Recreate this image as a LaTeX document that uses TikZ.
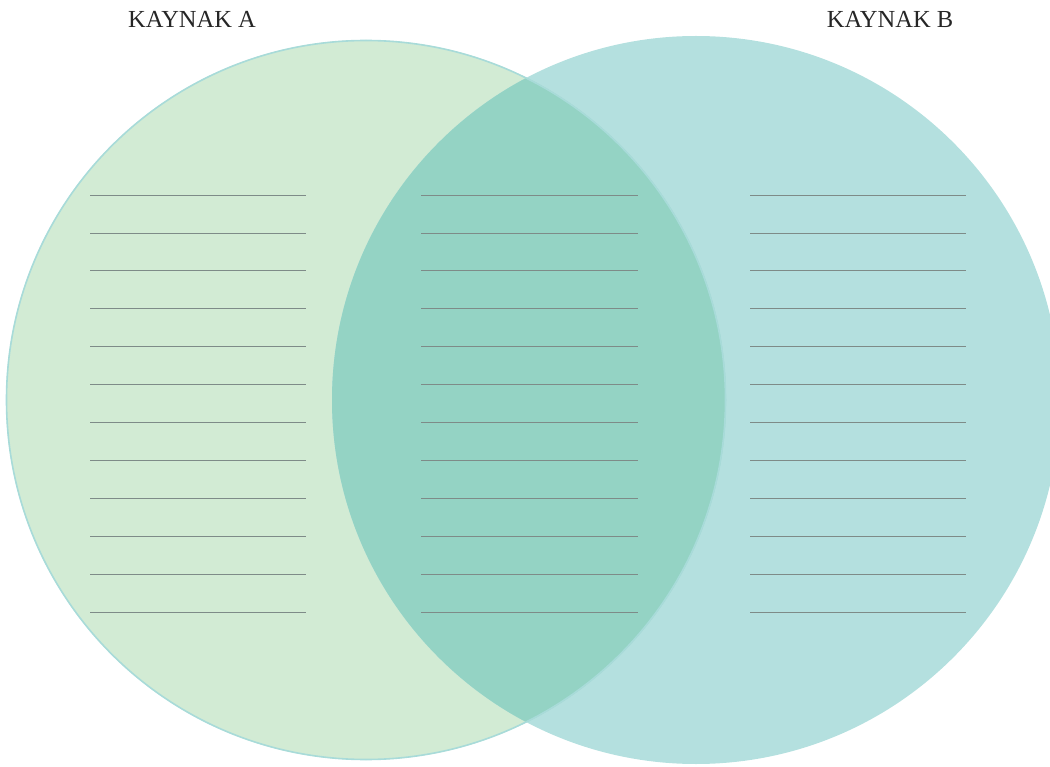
\documentclass[tikz,border=0pt]{standalone}
\usepackage{fontspec}
\setmainfont{Liberation Serif}
\usetikzlibrary{positioning}

\definecolor{srcAfill}{HTML}{D2EBD4}
\definecolor{srcBfill}{HTML}{B4E0DF}
\definecolor{bothfill}{HTML}{94D3C4}
\definecolor{rimcol}{HTML}{A8DBD9}
\definecolor{rulecol}{HTML}{7E8B88}

\begin{document}
\begin{tikzpicture}[
        x=1pt, y=-1pt,
        label/.style={font=\fontsize{24.5}{28}\selectfont, text=black!85, inner sep=0pt},
        rule/.style={rulecol, line width=0.7pt}
    ]

    \useasboundingbox (0,0) rectangle (1050,767);

    % the two sets
    \fill[srcAfill] (366,400) circle (360);
    \fill[srcBfill] (696,400) circle (364);
    \begin{scope}
        \clip (366,400) circle (360);
        \fill[bothfill] (696,400) circle (364);
    \end{scope}
    \draw[rimcol, line width=1.6pt] (366,400) circle (359.5);

    \node[label] (labA) at (192,19) {KAYNAK A};
    \node[label] (labB) at (890,19) {KAYNAK B};

    % writing lines
    \foreach \row in {0,...,11} {
        \draw[rule] (90,195+37.9*\row) -- (306,195+37.9*\row);
        \draw[rule] (421,195+37.9*\row) -- (638,195+37.9*\row);
        \draw[rule] (750,195+37.9*\row) -- (966,195+37.9*\row);
    }
\end{tikzpicture}
\end{document}
